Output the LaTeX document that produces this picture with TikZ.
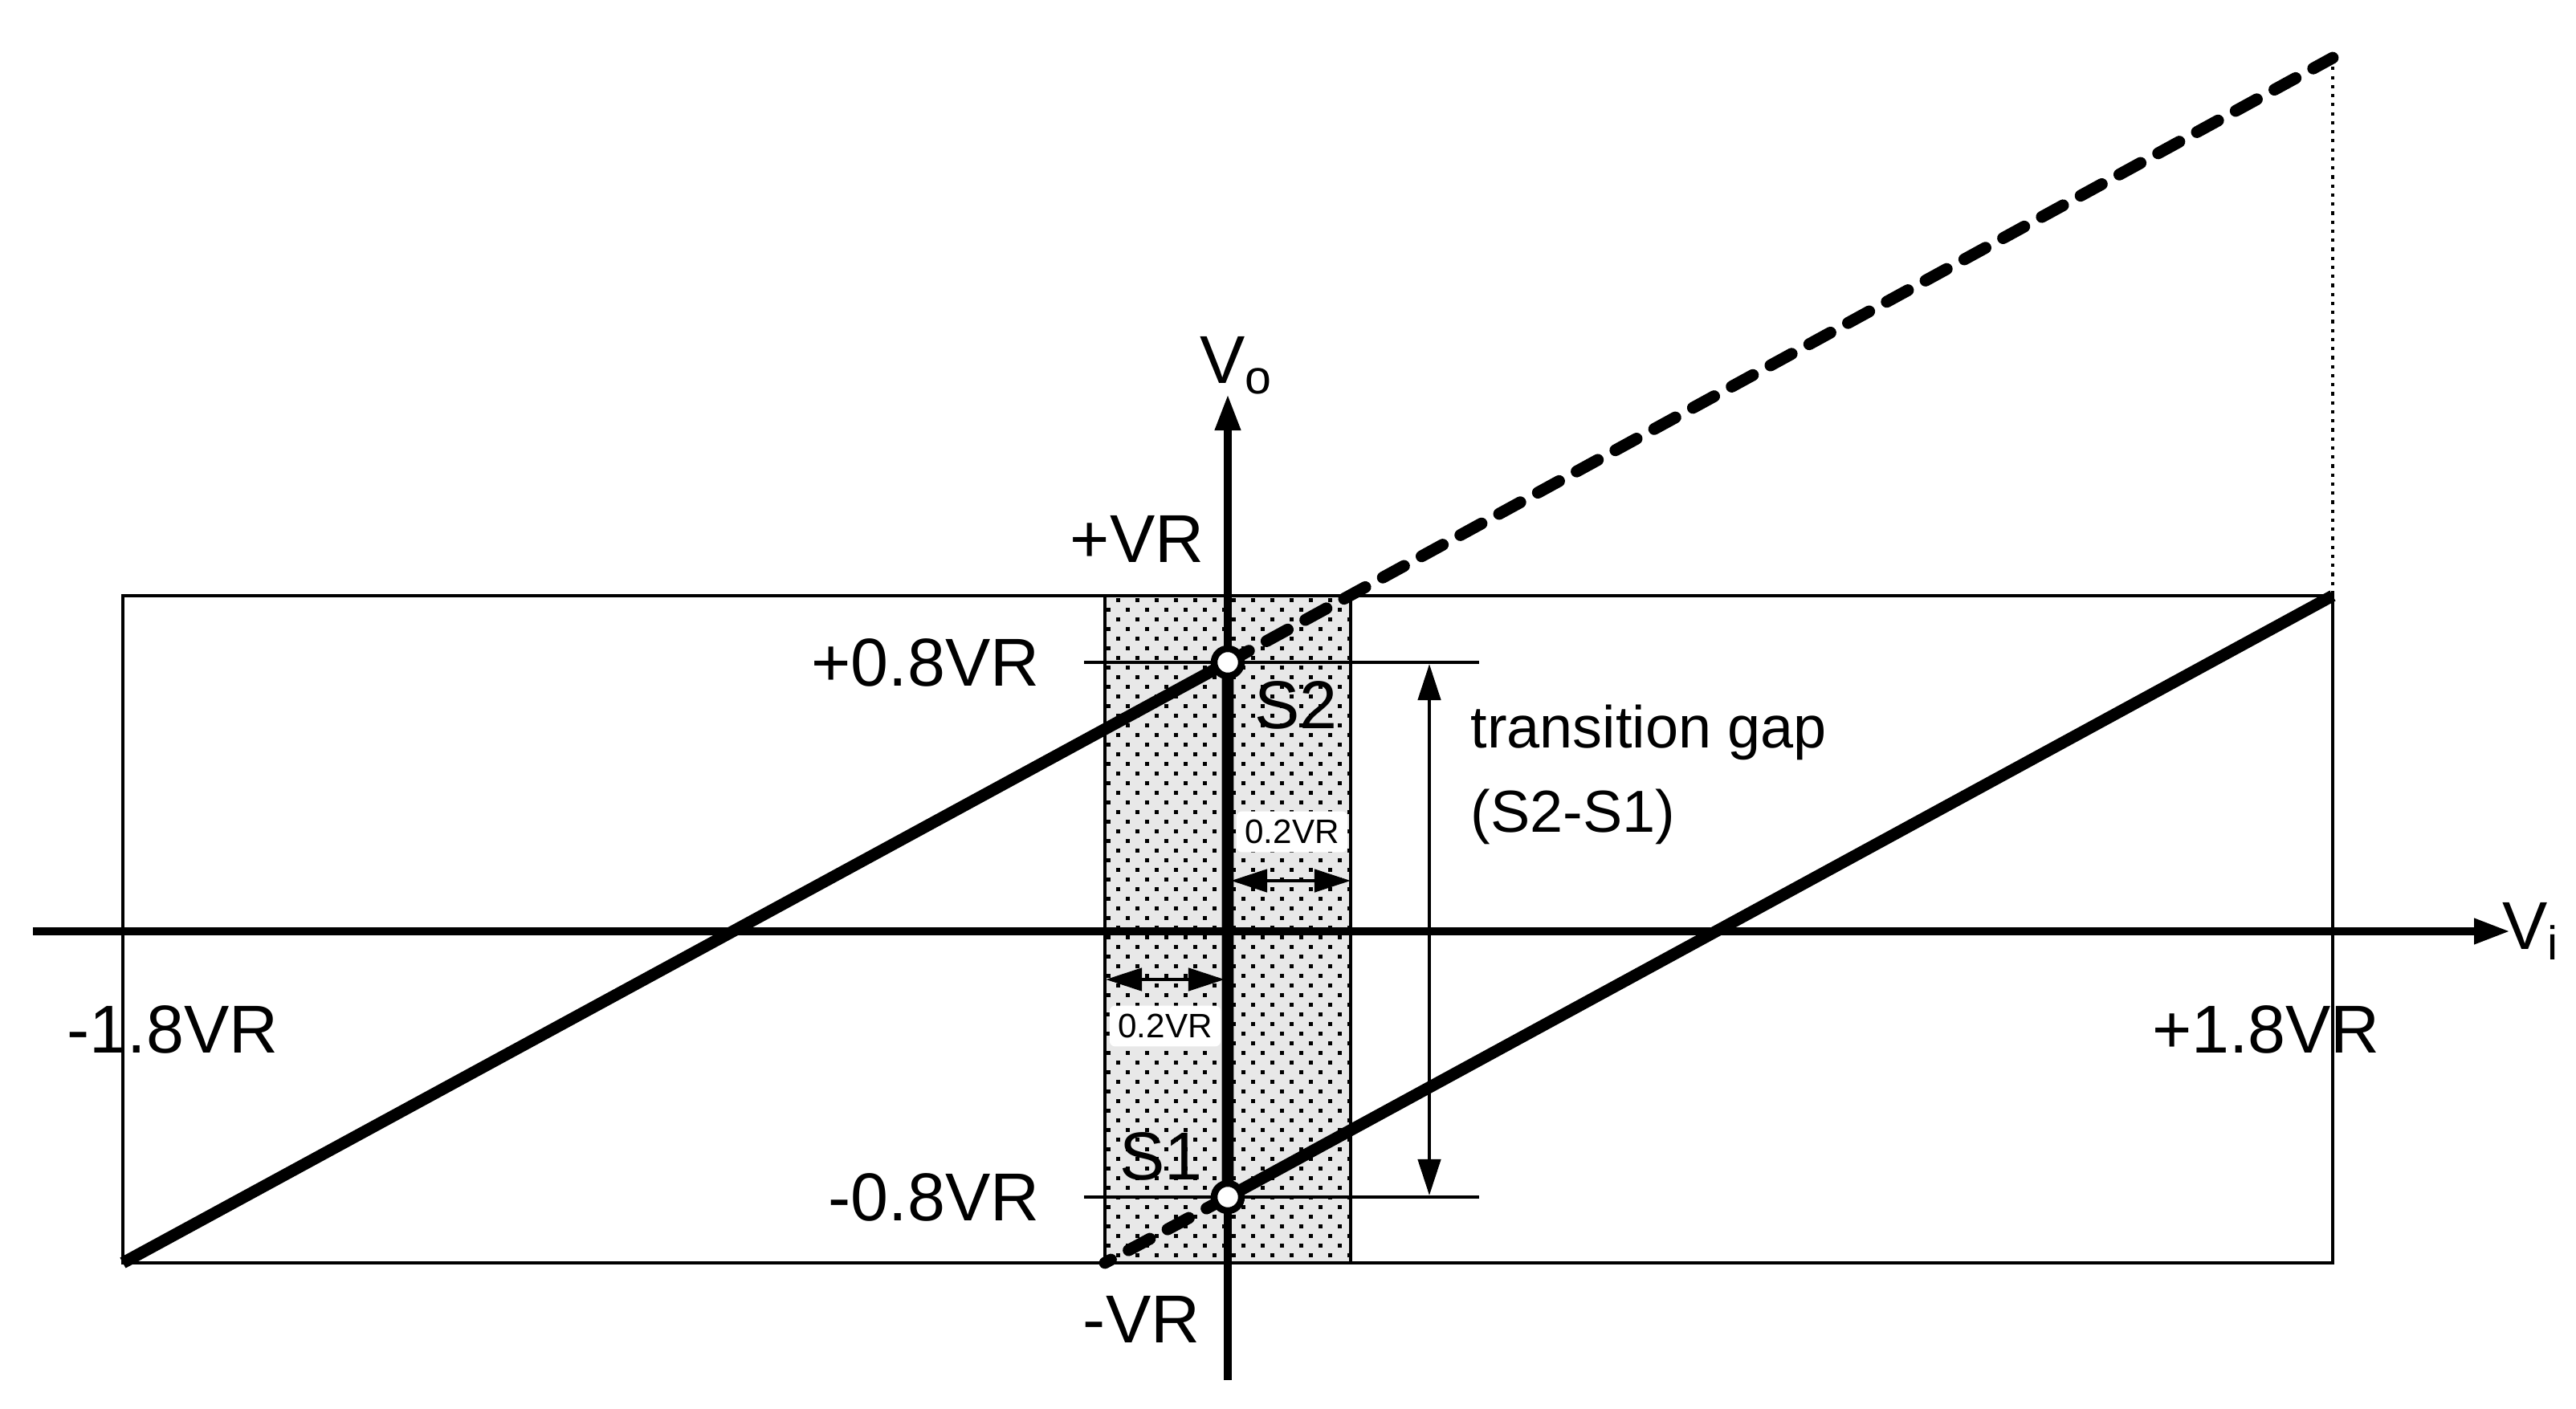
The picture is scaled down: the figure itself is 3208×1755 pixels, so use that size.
\documentclass[tikz,border=0pt]{standalone}
\usepackage{fontspec}
\setmainfont{Liberation Sans}
\usetikzlibrary{arrows.meta}
\begin{document}
\begin{tikzpicture}[x=0.01cm,y=-0.01cm,
  thin line/.style={line width=1.3pt},
  thick line/.style={line width=4.2pt},
  axis/.style={line width=2.8pt,-{Triangle[length=0.45cm,width=0.3cm]}},
  dim/.style={line width=1.3pt,{Triangle[length=0.45cm,width=0.28cm]}-{Triangle[length=0.45cm,width=0.28cm]}},
  big/.style={font=\fontsize{24}{28}\selectfont,inner sep=0pt},
  mid/.style={font=\fontsize{21}{25}\selectfont,inner sep=0pt},
  small/.style={font=\fontsize{12}{14}\selectfont,fill=white,inner sep=3pt,rounded corners=2pt},
  pt/.style={circle,draw,fill=white,line width=2.4pt,minimum size=0.34cm,inner sep=0pt}]
\useasboundingbox (0,0) rectangle (3208,1755);
% shaded band
\fill[gray!18] (1376,742) rectangle (1682,1573);
\begin{scope}
\clip (1376,742) rectangle (1682,1573);
\foreach \r in {0,...,70}{
  \pgfmathsetmacro{\yy}{745+12*\r}
  \pgfmathsetmacro{\off}{mod(\r,2)*12}
  \foreach \c in {0,...,13}{
    \fill (1366+\off+24*\c,\yy) rectangle +(4.5,4.5);
  }
}
\end{scope}
% box
\draw[thin line] (153,742) rectangle (2905,1573);
\draw[thin line] (1376,742) -- (1376,1573) (1682,742) -- (1682,1573);
% level lines
\coordinate (h1a) at (1350,825); \coordinate (h1b) at (1842,825);
\coordinate (h2a) at (1350,1491); \coordinate (h2b) at (1842,1491);
\draw[thin line] (h1a) -- (h1b);
\draw[thin line] (h2a) -- (h2b);
% axes
\coordinate (xa) at (41,1160); \coordinate (xb) at (3126,1160);
\coordinate (ya) at (1529,1719); \coordinate (yb) at (1529,491);
\draw[axis] (xa) -- (xb);
\draw[axis] (ya) -- (yb);
% points
\coordinate (BL) at (153,1573);
\coordinate (TR) at (2905,742);
\coordinate (TT) at (2905,72);
\coordinate (BD) at (1376,1573);
\coordinate (S2c) at (1529,825);
\coordinate (S1c) at (1529,1491);
\draw[thick line] (BL) -- (S2c) -- (S1c) -- (TR);
\draw[thick line,dash pattern=on 0.3cm off 0.25cm,line cap=round] (S2c) -- (TT);
\draw[thick line,dash pattern=on 0.3cm off 0.25cm,line cap=round] (S1c) -- (BD);
\draw[line width=1.2pt,dotted] (TT) -- (TR);
\node[pt] (S2) at (S2c) {};
\node[pt] (S1) at (S1c) {};
% dimension arrows
\coordinate (d1a) at (1533,1097); \coordinate (d1b) at (1682,1097);
\coordinate (d2a) at (1377,1220); \coordinate (d2b) at (1525,1220);
\draw[dim] (d1a) -- (d1b);
\draw[dim] (d2a) -- (d2b);
\node[small] (l1) at (1609,1036) {0.2VR};
\node[small] (l2) at (1451,1278) {0.2VR};
\coordinate (ga) at (1780,827); \coordinate (gb) at (1780,1489);
\draw[dim] (ga) -- (gb);
% labels
\node[big] (vo) at (1540,455) {V\textsubscript{o}};
\node[big] (vi) at (3152,1160) {V\textsubscript{i}};
\node[big,anchor=east] (pvr) at (1500,671) {+VR};
\node[big,anchor=east] (mvr) at (1495,1643) {-VR};
\node[big,anchor=east] (p08) at (1295,825) {+0.8VR};
\node[big,anchor=east] (m08) at (1295,1491) {-0.8VR};
\node[big] (m18) at (215,1282) {-1.8VR};
\node[big] (p18) at (2822,1282) {+1.8VR};
\node[big] (s2l) at (1614,878) {S2};
\node[big] (s1l) at (1446,1440) {S1};
\node[mid,anchor=west] (tg) at (1831,912) {transition gap};
\node[mid,anchor=west] (tg2) at (1831,1017) {(S2-S1)};
\end{tikzpicture}
\end{document}
